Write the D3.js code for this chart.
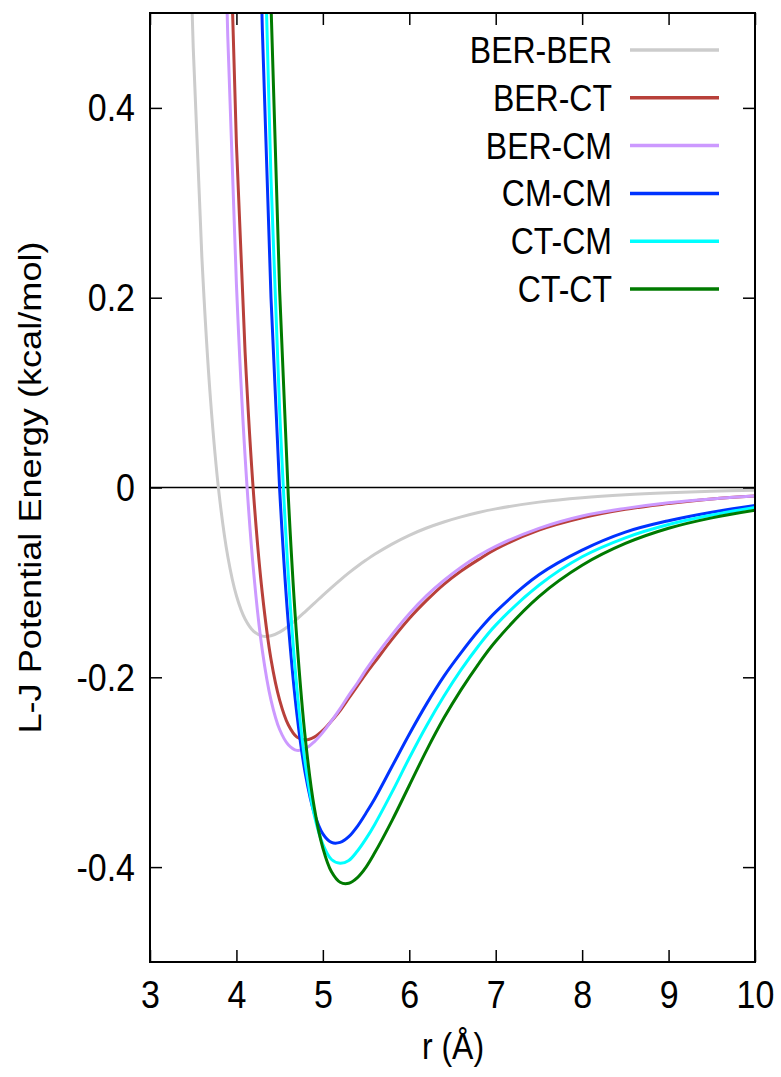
<!DOCTYPE html>
<html>
<head>
<meta charset="utf-8">
<script src="https://cdn.jsdelivr.net/npm/d3@7"></script>
<style>
  body { margin: 0; background: #fff; }
  text { font-family: "Liberation Sans", Arial, Helvetica, sans-serif; }
</style>
</head>
<body>
<svg id="chart" width="781" height="1077"></svg>
<script>
// separation r (Å), shared by every series
const rValues = [3.4, 3.5, 3.6, 3.7, 3.8, 3.9, 4.0, 4.1, 4.2, 4.3, 4.4, 4.5, 4.6, 4.7, 4.8, 4.9, 5.0,
  5.1, 5.2, 5.3, 5.4, 5.5, 5.6, 5.8, 6.0, 6.2, 6.4, 6.6, 6.8, 7.0, 7.5, 8.0, 8.5, 9.0, 9.5, 10];

// L-J energy (kcal/mol); null = not drawn
const berBer = [0.787, 0.464, 0.243, 0.093, -0.0072, -0.0727, -0.1141, -0.1386, -0.1516, -0.1566, -0.1563,
  -0.1524, -0.1462, -0.1387, -0.1305, -0.1221, -0.1136, -0.1054, -0.0975, -0.0900, -0.0830, -0.0765,
  -0.0704, -0.0596, -0.0504, -0.0427, -0.0363, -0.0309, -0.0263, -0.0225, -0.0154, -0.0107, -0.0076,
  -0.0055, -0.0040, -0.0030];
const berCt = [null, null, null, null, 1.114, 0.674, 0.362, 0.143, -0.009, -0.112, -0.181, -0.224, -0.250,
  -0.263, -0.266, -0.263, -0.256, -0.246, -0.235, -0.222, -0.209, -0.196, -0.184, -0.160, -0.138, -0.119,
  -0.102, -0.088, -0.076, -0.065, -0.045, -0.032, -0.023, -0.017, -0.012, -0.009];
const berCm = [null, null, null, null, 0.847, 0.475, 0.214, 0.033, -0.090, -0.172, -0.224, -0.255, -0.271,
  -0.277, -0.275, -0.268, -0.258, -0.246, -0.233, -0.219, -0.206, -0.192, -0.179, -0.155, -0.133, -0.114,
  -0.098, -0.084, -0.072, -0.062, -0.043, -0.030, -0.022, -0.016, -0.012, -0.009];
const cmCm = [null, null, null, null, null, null, null, null, 0.876, 0.482, 0.200, -0.002, -0.143, -0.239,
  -0.303, -0.343, -0.365, -0.374, -0.374, -0.368, -0.357, -0.343, -0.328, -0.294, -0.260, -0.228, -0.199,
  -0.174, -0.151, -0.131, -0.092, -0.066, -0.047, -0.035, -0.026, -0.019];
const ctCm = [null, null, null, null, null, null, null, null, 1.135, 0.665, 0.325, 0.081, -0.092, -0.212,
  -0.293, -0.345, -0.376, -0.392, -0.396, -0.393, -0.383, -0.370, -0.355, -0.321, -0.285, -0.251, -0.220,
  -0.192, -0.167, -0.145, -0.103, -0.073, -0.053, -0.039, -0.029, -0.021];
const ctCt = [null, null, null, null, null, null, null, null, null, 0.925, 0.509, 0.207, -0.009, -0.161,
  -0.267, -0.337, -0.380, -0.405, -0.416, -0.417, -0.411, -0.400, -0.385, -0.351, -0.314, -0.277, -0.243,
  -0.213, -0.186, -0.162, -0.115, -0.082, -0.059, -0.043, -0.032, -0.024];

const seriesNames = ["BER-BER", "BER-CT", "BER-CM", "CM-CM", "CT-CM", "CT-CT"];
const seriesValues = [berBer, berCt, berCm, cmCm, ctCm, ctCt];
const seriesColors = ["#cccccc", "#b8403a", "#cc99ff", "#0033ff", "#00ffff", "#007a00"];

const xTicks = [3, 4, 5, 6, 7, 8, 9, 10];
const yTicks = [-0.4, -0.2, 0, 0.2, 0.4];

const margin = { top: 13, right: 26, bottom: 115, left: 150 };
const width = 781 - margin.left - margin.right;
const height = 1077 - margin.top - margin.bottom;
const fontSize = 32;
const tickFont = 34;
// the source picture is stretched a little vertically, text too
const stretch = 1.13;

const svg = d3.select("#chart");
const g = svg.append("g").attr("transform", `translate(${margin.left},${margin.top})`);

const x = d3.scaleLinear().domain([3, 10]).range([0, width]);
const y = d3.scaleLinear().domain([-0.5, 0.5]).range([height, 0]);

// clip curves to the frame
svg.append("defs").append("clipPath").attr("id", "plot-clip")
  .append("rect").attr("width", width).attr("height", height);

// zero line
g.append("line")
  .attr("x1", 0).attr("x2", width)
  .attr("y1", y(0)).attr("y2", y(0))
  .attr("stroke", "#000").attr("stroke-width", 1.5);

// curves
const line = d3.line()
  .defined((d) => d[1] != null)
  .x((d) => x(d[0]))
  .y((d) => y(d[1]))
  .curve(d3.curveCatmullRom.alpha(0.5));

g.append("g").attr("clip-path", "url(#plot-clip)")
  .selectAll("path")
  .data(seriesValues)
  .join("path")
  .attr("d", (vals) => line(rValues.map((r, i) => [r, vals[i]])))
  .attr("fill", "none")
  .attr("stroke", (d, i) => seriesColors[i])
  .attr("stroke-width", 3)
  .attr("stroke-linejoin", "round");

// axes, ticks pointing inwards on all four sides
const tickLen = 12;
const styleAxis = (sel) => {
  sel.select(".domain").remove();
  sel.selectAll(".tick line").attr("stroke", "#000").attr("stroke-width", 1.5);
  sel.selectAll(".tick text")
    .attr("font-size", tickFont)
    .attr("fill", "#000");
};

const xAxis = g.append("g")
  .attr("transform", `translate(0,${height})`)
  .call(d3.axisBottom(x).tickValues(xTicks).tickFormat(d3.format("d"))
    .tickSizeInner(-tickLen).tickSizeOuter(0))
  .call(styleAxis);
xAxis.selectAll(".tick text")
  .attr("y", null).attr("dy", null)
  .attr("transform", `translate(0,46) scale(1,${stretch})`);

g.append("g")
  .call(d3.axisTop(x).tickValues(xTicks).tickSizeInner(-tickLen).tickSizeOuter(0).tickFormat(""))
  .call(styleAxis);

const yAxis = g.append("g")
  .call(d3.axisLeft(y).tickValues(yTicks).tickFormat((d) => (d === 0 ? "0" : d.toFixed(1)))
    .tickSizeInner(-tickLen).tickSizeOuter(0))
  .call(styleAxis);
yAxis.selectAll(".tick text")
  .attr("x", null).attr("dy", null)
  .attr("transform", `translate(-15,13) scale(1,${stretch})`);

g.append("g")
  .attr("transform", `translate(${width},0)`)
  .call(d3.axisRight(y).tickValues(yTicks).tickSizeInner(-tickLen).tickSizeOuter(0).tickFormat(""))
  .call(styleAxis);

// frame
g.append("rect")
  .attr("width", width).attr("height", height)
  .attr("fill", "none").attr("stroke", "#000").attr("stroke-width", 2);

// axis titles
svg.append("text")
  .attr("transform", `translate(453,1059) scale(1,${stretch})`)
  .attr("text-anchor", "middle")
  .attr("font-size", fontSize)
  .text("r (Å)");

svg.append("text")
  .attr("transform", `translate(41,${margin.top + y(0)}) rotate(-90) scale(${stretch},1)`)
  .attr("text-anchor", "middle")
  .attr("font-size", fontSize)
  .text("L-J Potential Energy (kcal/mol)");

// legend
const legend = g.append("g").attr("transform", `translate(${462},${37})`);
const rowGap = 47.8;
const items = legend.selectAll("g")
  .data(seriesNames)
  .join("g")
  .attr("transform", (d, i) => `translate(0,${i * rowGap})`);

items.append("text")
  .attr("transform", `translate(0,13) scale(1,${stretch})`)
  .attr("text-anchor", "end")
  .attr("font-size", fontSize)
  .text((d) => d);

items.append("line")
  .attr("x1", 18).attr("x2", 107)
  .attr("stroke", (d, i) => seriesColors[i])
  .attr("stroke-width", 3.5);
</script>
</body>
</html>
